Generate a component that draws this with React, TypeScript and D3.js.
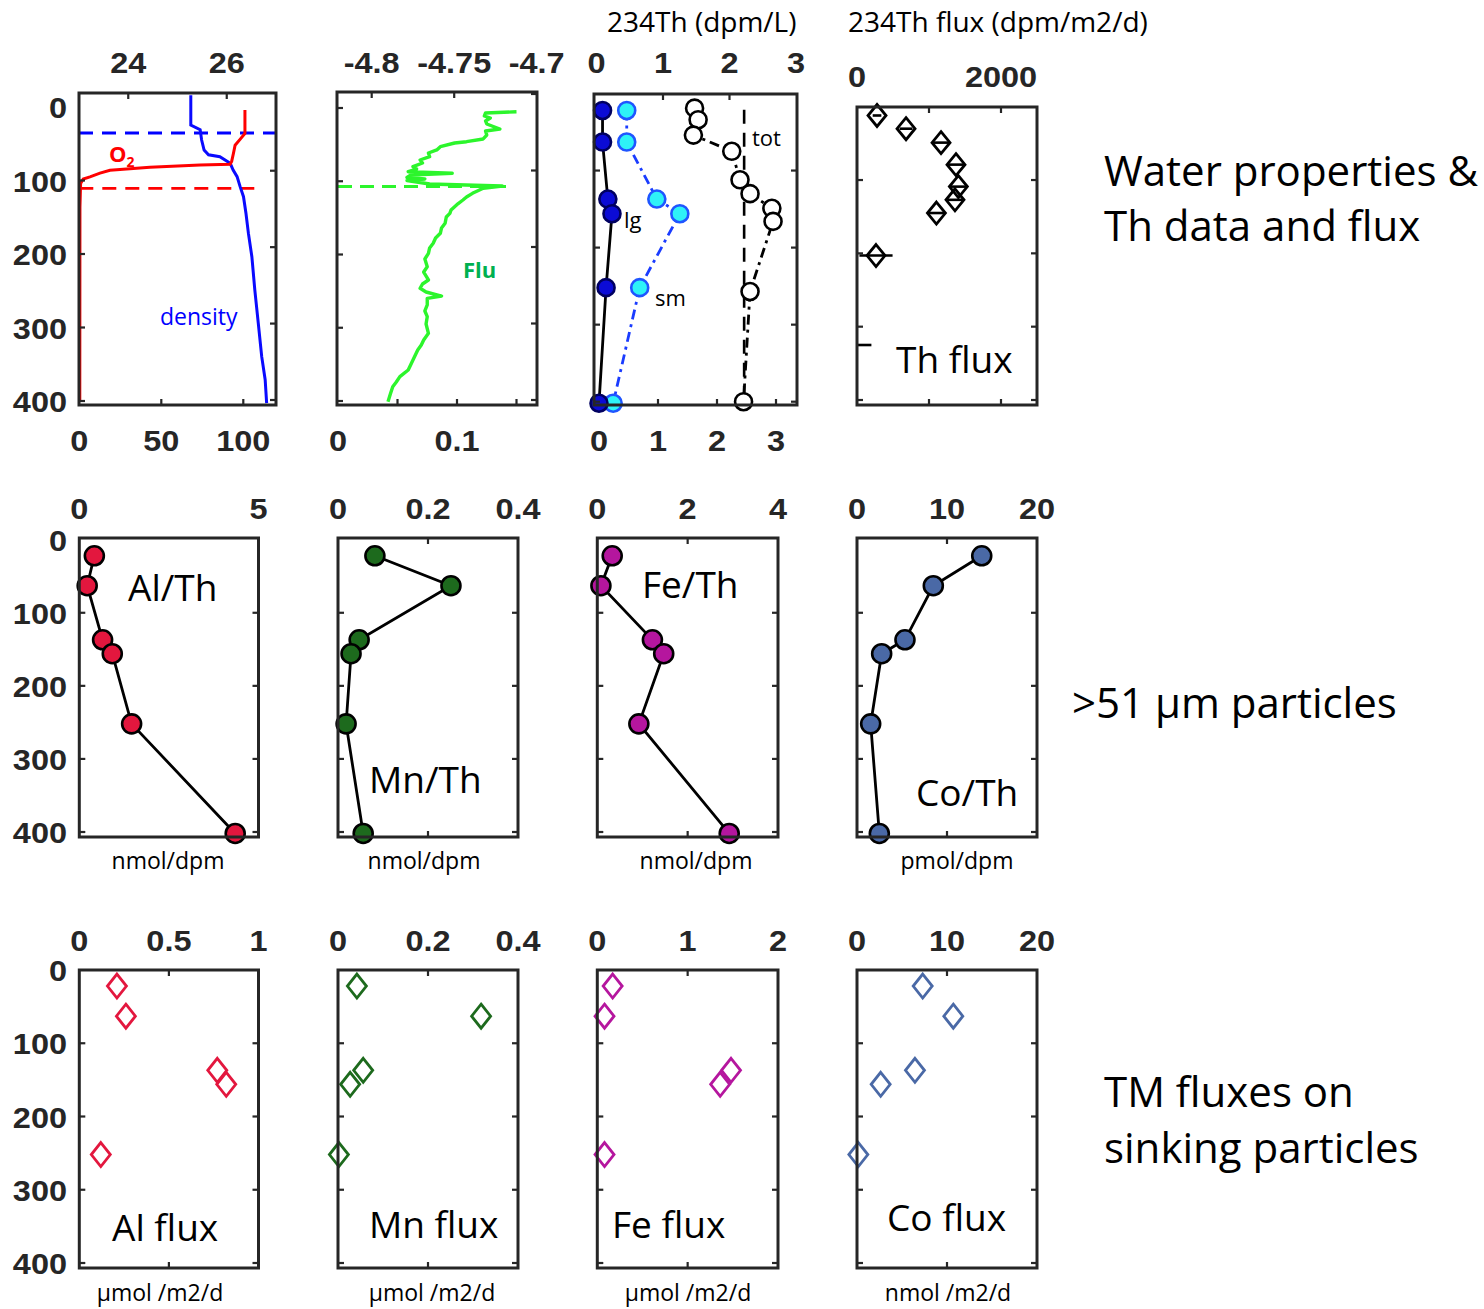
import * as d3 from 'd3';

// ---------- data read off the figure ----------
const sampleDepth = [22, 63, 137, 156, 252, 402];
const trapDepth = [22, 63, 137, 156, 252];
const depthTicks = [0, 100, 200, 300, 400];

// CTD profiles
const o2Depth = [4, 36, 43, 52, 63, 74, 78, 79, 82, 86, 90, 95, 98, 104, 136, 400];
const o2Value = [101, 101, 98.4, 95, 94, 92.9, 91.9, 73.6, 43.1, 18.7, 12.6, 6.5, 2.4, 0.8, 0.4, 0.3];
const sigmaDepth = [-16, 24.5, 31, 45, 58.5, 65, 67.6, 76.6, 85.7, 94.8, 108, 122, 144.6, 172, 203.7, 249, 294, 339.7, 371, 403];
const sigmaValue = [25.27, 25.27, 25.46, 25.49, 25.54, 25.63, 25.86, 26.07, 26.13, 26.21, 26.27, 26.34, 26.39, 26.44, 26.51, 26.57, 26.64, 26.71, 26.78, 26.81];
const mixedLayerDepth = 35.4;
const oxyclineDepth = 110.6;
const fluDepth = [5.1, 6.8, 10.9, 13.7, 17.7, 21.8, 28.7, 31.4, 36.9, 42.3, 46.0, 47.8, 52.8, 57.3, 61.4, 66.5, 71.0, 75.1, 80.1, 83.3,
  87.0, 89.1, 91.5, 94.9, 96.9, 99.0, 103.8, 106.5, 109.6, 112.6, 116.5, 121.5, 125.6, 130.4, 134.7, 139.2, 143.8, 148.8, 157.4, 163.8,
  171.1, 177.5, 184.7, 191.1, 198.4, 206.1, 216.7, 223.9, 234.8, 240.3, 246.1, 251.2, 256.7, 259.8, 268.9, 277.1, 284.9, 294.9, 307.6, 316.7,
  323.5, 330.4, 344.0, 357.7, 366.8, 374.1, 380.5, 390.4, 401.0];
const fluValue = [0.150, 0.124, 0.123, 0.128, 0.124, 0.125, 0.136, 0.124, 0.125, 0.122, 0.108, 0.098, 0.086, 0.083, 0.076, 0.077, 0.069, 0.071, 0.063, 0.066,
  0.059, 0.096, 0.061, 0.058, 0.073, 0.058, 0.077, 0.138, 0.122, 0.118, 0.113, 0.108, 0.105, 0.101, 0.098, 0.095, 0.094, 0.091, 0.090, 0.087,
  0.086, 0.082, 0.080, 0.077, 0.076, 0.073, 0.075, 0.072, 0.076, 0.071, 0.069, 0.074, 0.087, 0.075, 0.075, 0.073, 0.075, 0.074, 0.076, 0.072,
  0.070, 0.067, 0.063, 0.059, 0.052, 0.049, 0.046, 0.044, 0.042];
const fluMaxDepth = 107;

// 234Th
const thLarge = [0.06, 0.06, 0.15, 0.22, 0.12, 0.0];
const thSmall = [0.47, 0.47, 0.98, 1.37, 0.69, 0.24];
const thTotDepth = [19, 34, 54, 75, 112, 130, 149, 166, 257, 400];
const thTotal = [1.62, 1.68, 1.6, 2.25, 2.39, 2.56, 2.93, 2.95, 2.56, 2.45];
const u238 = 2.46;
const thFluxDepth = [12, 30, 49, 79, 109, 127, 145, 203, 325];
const thFlux = [278, 681, 1167, 1375, 1408, 1361, 1103, 264, -150];
const thFluxErr = [60, 90, 110, 110, 110, 110, 120, 230, 350];

// >51 um particle ratios
const alTh = [0.42, 0.22, 0.65, 0.92, 1.46, 4.35];
const mnTh = [0.082, 0.251, 0.047, 0.029, 0.018, 0.056];
const feTh = [0.33, 0.08, 1.22, 1.47, 0.92, 2.92];
const coTh = [13.86, 8.48, 5.33, 2.74, 1.52, 2.48];

// sinking fluxes
const alFlux = [0.21, 0.26, 0.77, 0.82, 0.12];
const mnFlux = [0.042, 0.318, 0.056, 0.027, 0.002];
const feFlux = [0.17, 0.08, 1.48, 1.36, 0.08];
const coFlux = [7.3, 10.7, 6.44, 2.63, 0.15];

// ---------- styling ----------
const AXIS = '#262626';
const TICKFONT = '"Liberation Sans", Arial, sans-serif';
const TEXTFONT = '"Open Sans", "Noto Sans", sans-serif';

type Lin = d3.ScaleLinear<number, number>;
type Box = { x0: number; x1: number; y0: number; y1: number };

const TickLabel = ({ x, y, text, anchor = 'middle' }: { x: number; y: number; text: string; anchor?: string }) => (
  <text transform={`translate(${x},${y}) scale(1.16,1.04)`} textAnchor={anchor}
    fontFamily={TICKFONT} fontWeight="bold" fontSize={28} fill={AXIS}>{text}</text>
);

// box with inward ticks on all four sides
function Frame({ box, xTop, xTopTicks, xBot, xBotTicks, yLeft, yRight, yTicks }: {
  box: Box; xTop?: Lin; xTopTicks?: number[]; xBot?: Lin; xBotTicks?: number[];
  yLeft: Lin; yRight?: Lin; yTicks: number[];
}) {
  const t = 6;
  const yr = yRight || yLeft;
  return (
    <g stroke={AXIS} fill="none">
      <rect x={box.x0} y={box.y0} width={box.x1 - box.x0} height={box.y1 - box.y0} strokeWidth={3} />
      {yTicks.map(v => <line key={'l' + v} x1={box.x0} x2={box.x0 + t} y1={yLeft(v)} y2={yLeft(v)} strokeWidth={2.2} />)}
      {yTicks.map(v => <line key={'r' + v} x1={box.x1} x2={box.x1 - t} y1={yr(v)} y2={yr(v)} strokeWidth={2.2} />)}
      {xTop && (xTopTicks || []).map(v => <line key={'t' + v} x1={xTop(v)} x2={xTop(v)} y1={box.y0} y2={box.y0 + t} strokeWidth={2.2} />)}
      {xBot && (xBotTicks || []).map(v => <line key={'b' + v} x1={xBot(v)} x2={xBot(v)} y1={box.y1} y2={box.y1 - t} strokeWidth={2.2} />)}
    </g>
  );
}

const diamond = (cx: number, cy: number, w: number, h: number) =>
  `M${cx},${cy - h}L${cx + w},${cy}L${cx},${cy + h}L${cx - w},${cy}Z`;

const Label = ({ x, y, text, size = 37, fill = '#000', weight = 'normal', anchor = 'start' }: any) => (
  <text x={x} y={y} fontFamily={TEXTFONT} fontSize={size} fill={fill} fontWeight={weight} textAnchor={anchor}>{text}</text>
);

// ---------- rows ----------
function TopRow() {
  // panel 1: O2 (bottom) and sigma-theta (top)
  const b1: Box = { x0: 79, x1: 276, y0: 93, y1: 405 };
  const y1 = d3.scaleLinear().domain([0, 400]).range([107, 401]);
  const y1r = d3.scaleLinear().domain([0, 400]).range([94.3, 400]);
  const xO2 = d3.scaleLinear().domain([0, 100]).range([79.3, 243.3]);
  const xSig = d3.scaleLinear().domain([23, 27]).range([79, 276]);
  const o2Line = d3.line<number>().x(d => xO2(d)).y((d, i) => y1(o2Depth[i]));
  const sigLine = d3.line<number>().x(d => xSig(d)).y((d, i) => y1(sigmaDepth[i]));

  // panel 2: fluorescence
  const b2: Box = { x0: 337, x1: 537, y0: 92, y1: 405 };
  const y2 = d3.scaleLinear().domain([0, 400]).range([108, 401]);
  const y2r = d3.scaleLinear().domain([0, 400]).range([94, 400]);
  const xFlu = d3.scaleLinear().domain([0, 0.1]).range([338, 457]);
  const xFluTop = d3.scaleLinear().domain([-4.8, -4.7]).range([371.7, 536.7]);
  const fluLine = d3.line<number>().x(d => xFlu(d)).y((d, i) => y2(fluDepth[i]));

  // panel 3: 234Th activities
  const b3: Box = { x0: 594, x1: 797, y0: 94, y1: 405 };
  const y3 = d3.scaleLinear().domain([0, 400]).range([93.5, 401.7]);
  const xTh = d3.scaleLinear().domain([0, 3]).range([599, 776]);
  const xThTop = d3.scaleLinear().domain([0, 3]).range([596.5, 796]);
  const lgLine = d3.line<number>().x(d => xTh(d)).y((d, i) => y3(sampleDepth[i]));
  const totLine = d3.line<number>().x(d => xTh(d)).y((d, i) => y3(thTotDepth[i]));

  // panel 4: 234Th flux
  const b4: Box = { x0: 857, x1: 1037, y0: 107, y1: 405 };
  const y4 = d3.scaleLinear().domain([0, 400]).range([106.7, 400]);
  const xF = d3.scaleLinear().domain([0, 2500]).range([857, 1037]);

  return (
    <g>
      <Label x={607} y={32} text="234Th (dpm/L)" size={28} />
      <Label x={848} y={32} text="234Th flux (dpm/m2/d)" size={28} />

      {depthTicks.map(v => <TickLabel key={v} x={67} y={y1(v) + 11} text={String(v)} anchor="end" />)}

      {/* panel 1 */}
      {[24, 26].map(v => <TickLabel key={v} x={xSig(v)} y={73} text={String(v)} />)}
      {[0, 50, 100].map(v => <TickLabel key={v} x={xO2(v)} y={451} text={String(v)} />)}
      <line x1={xSig(23)} x2={xSig(27)} y1={y1(mixedLayerDepth)} y2={y1(mixedLayerDepth)} stroke="#0000ff" strokeWidth={2.8} strokeDasharray="14,9" />
      <line x1={xO2(0)} x2={xO2(107)} y1={y1(oxyclineDepth)} y2={y1(oxyclineDepth)} stroke="#ff0000" strokeWidth={2.8} strokeDasharray="14,9" />
      <path d={sigLine(sigmaValue) || ''} fill="none" stroke="#0a0aff" strokeWidth={3} />
      <path d={o2Line(o2Value) || ''} fill="none" stroke="#ff0000" strokeWidth={3} />
      <text x={109} y={162} fontFamily={TEXTFONT} fontSize={22} fill="#ff0000" fontWeight="bold">O<tspan fontSize={14} dy={5}>2</tspan></text>
      <Label x={160} y={325} text="density" size={23} fill="#0000ff" />
      <Frame box={b1} xTop={xSig} xTopTicks={[24, 26]} xBot={xO2} xBotTicks={[50, 100]} yLeft={y1} yRight={y1r} yTicks={[100, 200, 300, 400]} />

      {/* panel 2 */}
      {[-4.8, -4.75, -4.7].map(v => <TickLabel key={v} x={xFluTop(v)} y={73} text={String(v)} />)}
      {[0, 0.1].map(v => <TickLabel key={v} x={xFlu(v)} y={451} text={String(v)} />)}
      <line x1={xFlu(0)} x2={xFlu(0.146)} y1={y2(fluMaxDepth)} y2={y2(fluMaxDepth)} stroke="#2cf52c" strokeWidth={3} strokeDasharray="14,8" />
      <path d={fluLine(fluValue) || ''} fill="none" stroke="#2cf52c" strokeWidth={3.4} strokeLinejoin="round" />
      <Label x={463} y={278} text="Flu" size={22} fill="#00b050" weight="bold" />
      <Frame box={b2} xTop={xFluTop} xTopTicks={[-4.8, -4.75]} xBot={xFlu} xBotTicks={[0.05, 0.1, 0.15]} yLeft={y2} yRight={y2r} yTicks={[0, 100, 200, 300, 400]} />

      {/* panel 3 */}
      {[0, 1, 2, 3].map(v => <TickLabel key={v} x={xThTop(v)} y={73} text={String(v)} />)}
      {[0, 1, 2, 3].map(v => <TickLabel key={v} x={xTh(v)} y={451} text={String(v)} />)}
      <line x1={xTh(u238)} x2={xTh(u238)} y1={y3(21)} y2={y3(400)} stroke="#000" strokeWidth={2.6} strokeDasharray="14,9" />
      <path d={totLine(thTotal) || ''} fill="none" stroke="#000" strokeWidth={2.8} strokeDasharray="10,5,3,5" />
      <path d={lgLine(thSmall) || ''} fill="none" stroke="#1a3cff" strokeWidth={2.8} strokeDasharray="10,5,3,5" />
      <path d={lgLine(thLarge) || ''} fill="none" stroke="#000" strokeWidth={2.8} />
      {thTotal.map((v, i) => <circle key={'t' + i} cx={xTh(v)} cy={y3(thTotDepth[i])} r={8.5} fill="#fff" stroke="#000" strokeWidth={2.6} />)}
      {thSmall.map((v, i) => <circle key={'s' + i} cx={xTh(v)} cy={y3(sampleDepth[i])} r={8.5} fill="#2ef2f7" stroke="#1f55ff" strokeWidth={2.6} />)}
      {thLarge.map((v, i) => <circle key={'l' + i} cx={xTh(v)} cy={y3(sampleDepth[i])} r={8.5} fill="#0b0bd6" stroke="#000060" strokeWidth={2.6} />)}
      <Label x={752} y={146} text="tot" size={22} />
      <Label x={624} y={228} text="lg" size={22} />
      <Label x={655} y={306} text="sm" size={22} />
      <Frame box={b3} xTop={xThTop} xTopTicks={[1, 2]} xBot={xTh} xBotTicks={[1, 2, 3]} yLeft={y3} yTicks={[100, 200, 300, 400]} />

      {/* panel 4 */}
      {[0, 2000].map(v => <TickLabel key={v} x={xF(v)} y={87} text={String(v)} />)}
      {thFlux.map((v, i) => {
        const lo = xF(Math.max(0, v - thFluxErr[i]));
        const hi = xF(v + thFluxErr[i]);
        const cy = y4(thFluxDepth[i]);
        return (
          <g key={i}>
            <line x1={lo} x2={hi} y1={cy} y2={cy} stroke="#000" strokeWidth={2.6} />
            {v >= 0 && <path d={diamond(xF(v), cy, 9, 11)} fill="none" stroke="#000" strokeWidth={2.8} />}
          </g>
        );
      })}
      <Label x={896} y={373} text="Th flux" size={37} />
      <Frame box={b4} xTop={xF} xTopTicks={[1000, 2000]} xBot={xF} xBotTicks={[1000, 2000]} yLeft={y4} yTicks={[100, 200, 300, 400]} />
    </g>
  );
}

type PanelSpec = { x0: number; x1: number; max: number; mid: number[]; labels: number[]; values: number[]; color: string; name: string; nx: number; ny: number; unit: string; ux: number };

function ProfileRow({ y0, y1, depth0, depth400, labelY, unitY, specs, depths, kind }: {
  y0: number; y1: number; depth0: number; depth400: number; labelY: number; unitY: number;
  specs: PanelSpec[]; depths: number[]; kind: 'circle' | 'diamond';
}) {
  const y = d3.scaleLinear().domain([0, 400]).range([depth0, depth400]);
  return (
    <g>
      {depthTicks.map(v => <TickLabel key={v} x={67} y={y(v) + 11} text={String(v)} anchor="end" />)}
      {specs.map(s => {
        const x = d3.scaleLinear().domain([0, s.max]).range([s.x0, s.x1]);
        const line = d3.line<number>().x(d => x(d)).y((d, i) => y(depths[i]));
        return (
          <g key={s.name}>
            {s.labels.map(v => <TickLabel key={v} x={x(v)} y={labelY} text={String(v)} />)}
            {kind === 'circle' && <path d={line(s.values) || ''} fill="none" stroke="#000" strokeWidth={2.8} />}
            {kind === 'circle' && s.values.map((v, i) =>
              <circle key={i} cx={x(v)} cy={y(depths[i])} r={9.5} fill={s.color} stroke="#000" strokeWidth={2.6} />)}
            {kind === 'diamond' && s.values.map((v, i) =>
              <path key={i} d={diamond(x(v), y(depths[i]), 9.5, 12)} fill="none" stroke={s.color} strokeWidth={2.8} />)}
            <Label x={s.nx} y={s.ny} text={s.name} size={37} />
            <Label x={s.ux} y={unitY} text={s.unit} size={23} anchor="middle" />
            <Frame box={{ x0: s.x0, x1: s.x1, y0, y1 }} xTop={x} xTopTicks={s.mid} xBot={x} xBotTicks={s.mid} yLeft={y} yTicks={[100, 200, 300, 400]} />
          </g>
        );
      })}
    </g>
  );
}

const ratioSpecs: PanelSpec[] = [
  { x0: 79.3, x1: 258.5, max: 5, mid: [], labels: [0, 5], values: alTh, color: '#e3173e', name: 'Al/Th', nx: 128, ny: 601, unit: 'nmol/dpm', ux: 168 },
  { x0: 338, x1: 518, max: 0.4, mid: [0.2], labels: [0, 0.2, 0.4], values: mnTh, color: '#1d6a1d', name: 'Mn/Th', nx: 369, ny: 793, unit: 'nmol/dpm', ux: 424 },
  { x0: 597.3, x1: 778, max: 4, mid: [2], labels: [0, 2, 4], values: feTh, color: '#b5169e', name: 'Fe/Th', nx: 642, ny: 598, unit: 'nmol/dpm', ux: 696 },
  { x0: 857, x1: 1037, max: 20, mid: [10], labels: [0, 10, 20], values: coTh, color: '#4a69a6', name: 'Co/Th', nx: 916, ny: 806, unit: 'pmol/dpm', ux: 957 },
];

const fluxSpecs: PanelSpec[] = [
  { x0: 79.3, x1: 258.5, max: 1, mid: [0.5], labels: [0, 0.5, 1], values: alFlux, color: '#e3173e', name: 'Al flux', nx: 112, ny: 1241, unit: 'µmol /m2/d', ux: 160 },
  { x0: 338, x1: 518, max: 0.4, mid: [0.2], labels: [0, 0.2, 0.4], values: mnFlux, color: '#1d6a1d', name: 'Mn flux', nx: 369, ny: 1238, unit: 'µmol /m2/d', ux: 432 },
  { x0: 597.3, x1: 778, max: 2, mid: [1], labels: [0, 1, 2], values: feFlux, color: '#b5169e', name: 'Fe flux', nx: 612, ny: 1238, unit: 'µmol /m2/d', ux: 688 },
  { x0: 857, x1: 1037, max: 20, mid: [10], labels: [0, 10, 20], values: coFlux, color: '#4a69a6', name: 'Co flux', nx: 887, ny: 1231, unit: 'nmol /m2/d', ux: 948 },
];

export default function App() {
  return (
    <svg width={1484} height={1309} style={{ position: 'absolute', left: 0, top: 0, background: '#fff' }}>
      <rect width={1484} height={1309} fill="#fff" />
      <TopRow />
      <ProfileRow y0={538} y1={837} depth0={539.7} depth400={832} labelY={519} unitY={869}
        specs={ratioSpecs} depths={sampleDepth} kind="circle" />
      <ProfileRow y0={970} y1={1268} depth0={970} depth400={1263} labelY={951} unitY={1301}
        specs={fluxSpecs} depths={trapDepth} kind="diamond" />

      <Label x={1104} y={186} text="Water properties &" size={42} />
      <Label x={1104} y={241} text="Th data and flux" size={42} />
      <Label x={1072} y={718} text=">51 µm particles" size={42} />
      <Label x={1104} y={1107} text="TM fluxes on" size={42} />
      <Label x={1104} y={1163} text="sinking particles" size={42} />
    </svg>
  );
}
